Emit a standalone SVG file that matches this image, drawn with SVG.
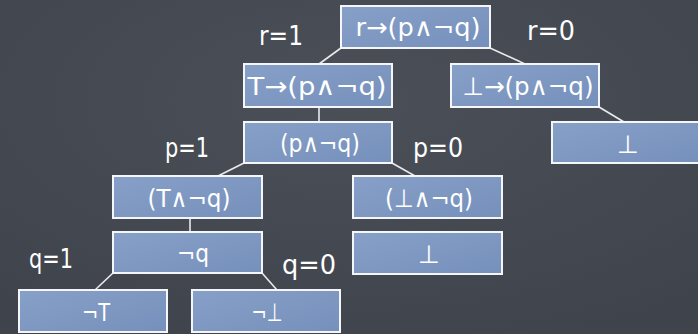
<svg xmlns="http://www.w3.org/2000/svg" width="698" height="334" viewBox="0 0 698 334">
<defs>
<linearGradient id="bf" x1="0" y1="0" x2="1" y2="1">
<stop offset="0" stop-color="#87a0c8"/>
<stop offset="1" stop-color="#7590bb"/>
</linearGradient>
<radialGradient id="bg" cx="0.5" cy="0.3" r="0.8">
<stop offset="0" stop-color="#4b5058"/>
<stop offset="1" stop-color="#3f444c"/>
</radialGradient>
</defs>
<style>
.box{fill:url(#bf);stroke:#f4f6fa;stroke-width:2}
.t{font-family:"DejaVu Sans","Noto Sans",sans-serif;font-size:25px;fill:#ffffff;text-anchor:middle}
.lab{font-family:"DejaVu Sans","Noto Sans",sans-serif;font-size:26px;fill:#ffffff;text-anchor:middle}
.c{stroke:#e8eaee;stroke-width:1.6;fill:none}
</style>
<rect x="0" y="0" width="698" height="334" fill="url(#bg)"/>
<g id="connectors">
<line class="c" x1="341" y1="48" x2="319" y2="64"/>
<line class="c" x1="490" y1="48" x2="525" y2="64"/>
<line class="c" x1="319" y1="107" x2="319" y2="122"/>
<line class="c" x1="599" y1="107" x2="624" y2="122"/>
<line class="c" x1="244" y1="163" x2="218" y2="176"/>
<line class="c" x1="392" y1="163" x2="415" y2="176"/>
<line class="c" x1="190" y1="218" x2="190" y2="232"/>
<line class="c" x1="113" y1="273" x2="95" y2="290"/>
<line class="c" x1="262" y1="273" x2="277" y2="290"/>
</g>
<g id="labels">
<text class="lab" x="281" y="45" textLength="44" lengthAdjust="spacingAndGlyphs">r=1</text>
<text class="lab" x="551" y="40" textLength="48" lengthAdjust="spacingAndGlyphs">r=0</text>
<text class="lab" x="187" y="157" textLength="44" lengthAdjust="spacingAndGlyphs">p=1</text>
<text class="lab" x="438" y="157" textLength="50" lengthAdjust="spacingAndGlyphs">p=0</text>
<text class="lab" x="51" y="268" textLength="44" lengthAdjust="spacingAndGlyphs">q=1</text>
<text class="lab" x="309" y="274" textLength="54" lengthAdjust="spacingAndGlyphs">q=0</text>
</g>
<g id="n1"><rect class="box" x="341" y="6" width="149" height="42"/><text class="t" x="418" y="36" textLength="125" lengthAdjust="spacingAndGlyphs">r→(p∧¬q)</text></g>
<g id="n2"><rect class="box" x="244" y="64" width="148" height="43"/><text class="t" x="317" y="95" textLength="139" lengthAdjust="spacingAndGlyphs">T→(p∧¬q)</text></g>
<g id="n3"><rect class="box" x="451" y="64" width="148" height="43"/><text class="t" x="528" y="95" textLength="131" lengthAdjust="spacingAndGlyphs">⊥→(p∧¬q)</text></g>
<g id="n4"><rect class="box" x="552" y="122" width="152" height="41"/><text class="t" x="628" y="153">⊥</text></g>
<g id="n5"><rect class="box" x="244" y="122" width="148" height="41"/><text class="t" x="320" y="152" textLength="80" lengthAdjust="spacingAndGlyphs">(p∧¬q)</text></g>
<g id="n6"><rect class="box" x="113" y="176" width="149" height="42"/><text class="t" x="189" y="207" textLength="83" lengthAdjust="spacingAndGlyphs">(T∧¬q)</text></g>
<g id="n7"><rect class="box" x="353" y="176" width="149" height="42"/><text class="t" x="429" y="207" textLength="88" lengthAdjust="spacingAndGlyphs">(⊥∧¬q)</text></g>
<g id="n8"><rect class="box" x="113" y="232" width="149" height="41"/><text class="t" x="193" y="262" textLength="32" lengthAdjust="spacingAndGlyphs">¬q</text></g>
<g id="n9"><rect class="box" x="353" y="232" width="149" height="42"/><text class="t" x="429" y="263">⊥</text></g>
<g id="n10"><rect class="box" x="19" y="290" width="148" height="42"/><text class="t" x="96" y="321" textLength="28" lengthAdjust="spacingAndGlyphs">¬T</text></g>
<g id="n11"><rect class="box" x="192" y="290" width="148" height="42"/><text class="t" x="267" y="321" textLength="31" lengthAdjust="spacingAndGlyphs">¬⊥</text></g>
</svg>
